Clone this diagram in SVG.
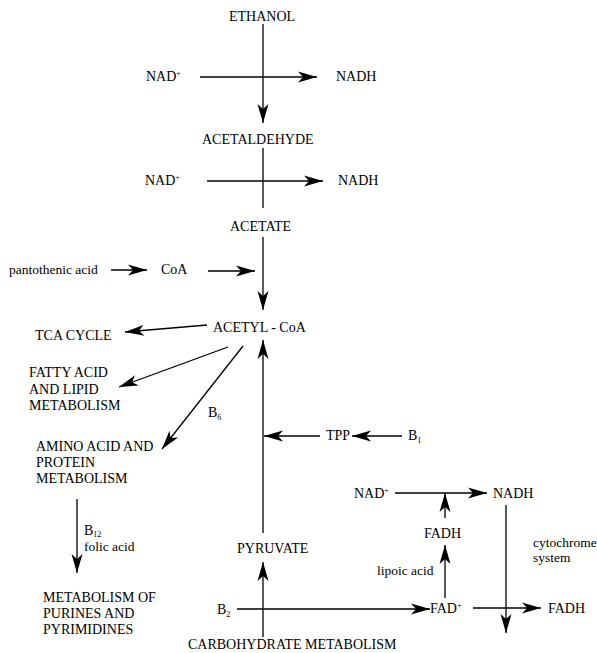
<svg xmlns="http://www.w3.org/2000/svg" width="597" height="653" viewBox="0 0 597 653">
<style>
text{font-family:"Liberation Serif","Times New Roman",serif;fill:#000}
.c{font-size:14px}
.l{font-size:13.5px}
.s{font-size:8px}
#connectors path{fill:none;stroke:#000;stroke-width:1.3}
.a{marker-end:url(#ah)}
</style>
<defs>
<marker id="ah" viewBox="-20 -6 21 12" refX="0" refY="0" markerWidth="21" markerHeight="12" markerUnits="userSpaceOnUse" orient="auto">
<path d="M0,0 L-19,-5.5 L-14,0 L-19,5.5 Z" fill="#000"/>
</marker>
</defs>
<rect width="597" height="653" fill="#fff"/>
<g id="connectors">
<path class="a" d="M263,24 V123"/>
<path class="a" d="M200,77 H317"/>
<path d="M263,148 V208"/>
<path class="a" d="M207,181 H323"/>
<path class="a" d="M263,237 V310"/>
<path class="a" d="M111,270 H147"/>
<path class="a" d="M208,271 H255"/>
<path class="a" d="M207,325 L125,332"/>
<path class="a" d="M228,347 L119,387"/>
<path class="a" d="M243,346 L162,449"/>
<path class="a" d="M77,499 V573"/>
<path class="a" d="M263,533 V340"/>
<path class="a" d="M320,436 H264"/>
<path class="a" d="M402,436 H352"/>
<path class="a" d="M263,637 V562"/>
<path class="a" d="M237,609 H430"/>
<path class="a" d="M395,493 H487"/>
<path class="a" d="M445,518 V493"/>
<path class="a" d="M445,598 V545"/>
<path class="a" d="M506,505 V633"/>
<path class="a" d="M473,608 H541"/>
</g>
<g id="ethanol"><text class="c" x="229" y="21">ETHANOL</text></g>
<g id="nad1"><text class="c" x="146" y="81">NAD<tspan class="s" dy="-5">+</tspan></text></g>
<g id="nadh1"><text class="c" x="336" y="81">NADH</text></g>
<g id="acetaldehyde"><text class="c" x="202" y="144">ACETALDEHYDE</text></g>
<g id="nad2"><text class="c" x="145" y="185">NAD<tspan class="s" dy="-5">+</tspan></text></g>
<g id="nadh2"><text class="c" x="338" y="185">NADH</text></g>
<g id="acetate"><text class="c" x="230" y="231">ACETATE</text></g>
<g id="pantothenic"><text class="l" x="9" y="274">pantothenic acid</text></g>
<g id="coa"><text class="c" x="161" y="274">CoA</text></g>
<g id="acetylcoa"><text class="c" x="213" y="332">ACETYL - CoA</text></g>
<g id="tca"><text class="c" x="35" y="340">TCA CYCLE</text></g>
<g id="fatty"><text class="c" x="29" y="377">FATTY ACID</text><text class="c" x="29" y="394">AND LIPID</text><text class="c" x="29" y="410">METABOLISM</text></g>
<g id="b6"><text class="c" x="208" y="417">B<tspan class="s" dy="3">6</tspan></text></g>
<g id="amino"><text class="c" x="36" y="451">AMINO ACID AND</text><text class="c" x="36" y="467">PROTEIN</text><text class="c" x="36" y="483">METABOLISM</text></g>
<g id="b12"><text class="c" x="84" y="535">B<tspan class="s" dy="2">12</tspan></text><text class="l" x="84" y="551">folic acid</text></g>
<g id="purines"><text class="c" x="43" y="602">METABOLISM  OF</text><text class="c" x="43" y="618">PURINES AND</text><text class="c" x="43" y="634">PYRIMIDINES</text></g>
<g id="tpp"><text class="c" x="326" y="440">TPP</text></g>
<g id="b1"><text class="c" x="408" y="440">B<tspan class="s" dy="3">1</tspan></text></g>
<g id="nad3"><text class="c" x="354" y="498">NAD<tspan class="s" dy="-5">+</tspan></text></g>
<g id="nadh3"><text class="c" x="493" y="498">NADH</text></g>
<g id="fadh1"><text class="c" x="424" y="538">FADH</text></g>
<g id="lipoic"><text class="l" x="377" y="575">lipoic acid</text></g>
<g id="cytochrome"><text class="l" x="533" y="547">cytochrome</text><text class="l" x="533" y="562">system</text></g>
<g id="pyruvate"><text class="c" x="237" y="553">PYRUVATE</text></g>
<g id="b2"><text class="c" x="217" y="614">B<tspan class="s" dy="3">2</tspan></text></g>
<g id="fad"><text class="c" x="430" y="613">FAD<tspan class="s" dy="-5">+</tspan></text></g>
<g id="fadh2"><text class="c" x="548" y="613">FADH</text></g>
<g id="carbohydrate"><text class="c" x="188" y="649">CARBOHYDRATE METABOLISM</text></g>
</svg>
